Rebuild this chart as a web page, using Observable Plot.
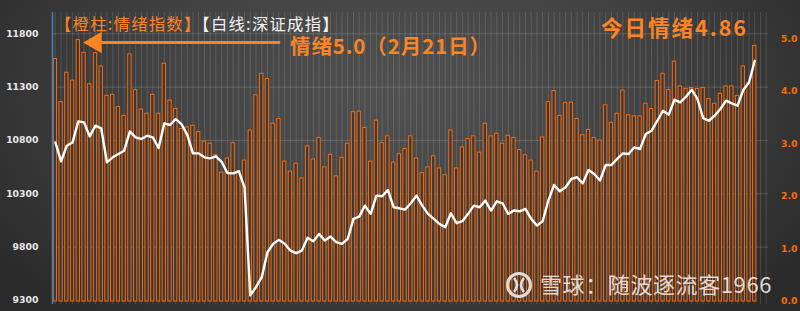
<!DOCTYPE html>
<html>
<head>
<meta charset="utf-8">
<script src="https://cdn.jsdelivr.net/npm/d3@7"></script>
<script src="https://cdn.jsdelivr.net/npm/@observablehq/plot@0.6"></script>
<style>
  html, body { margin: 0; padding: 0; }
  body { width: 800px; height: 311px; overflow: hidden;
    background: radial-gradient(ellipse 62% 95% at 50% 30%, #505050 0%, #424242 50%, #2a2a2a 100%); }
  #wrap { position: relative; width: 800px; height: 311px; font-family: "Noto Sans CJK SC", sans-serif; }
  #wrap svg.plot { position: absolute; left: 0; top: 0; }
  .ov { position: absolute; white-space: nowrap; line-height: 1; }
</style>
</head>
<body>
<div id="wrap"></div>
<script>
// 情绪指数 (right axis, 0–5), one bar per trading day
const sentiment = [
  4.61,3.79,4.35,4.20,4.97,4.73,4.13,4.72,4.47,3.91,
  3.93,3.70,3.53,4.70,4.02,3.65,3.57,3.93,3.57,4.52,
  3.82,3.66,3.28,3.31,3.34,3.22,3.04,3.00,2.78,2.45,
  2.72,3.01,2.48,2.68,3.25,3.92,4.33,4.23,3.38,3.47,
  2.66,2.47,2.62,2.34,2.95,2.70,3.11,2.55,2.79,2.38,
  2.73,3.00,3.60,3.61,3.30,2.66,3.44,3.01,3.14,2.64,
  2.80,2.90,3.14,2.72,2.44,2.55,2.76,2.53,2.40,3.25,
  2.53,2.93,3.09,3.14,2.83,3.38,3.14,3.19,3.00,3.15,
  3.11,2.88,2.78,2.68,2.47,3.12,3.79,4.00,3.53,3.77,
  3.78,3.47,3.16,3.26,3.11,3.06,3.73,3.40,3.57,4.01,
  3.54,3.52,3.52,3.76,3.66,4.19,4.33,4.02,4.56,4.09,
  4.04,4.06,4.04,4.06,3.85,3.76,3.95,4.09,4.09,3.91,
  4.47,4.15,4.86
];
// 深证成指 (left axis)
const szIndex = [
  10782,10604,10751,10782,10979,10970,10838,10939,10913,10595,
  10642,10673,10704,10885,10829,10814,10845,10829,10729,10960,
  10945,11001,10954,10854,10679,10679,10642,10632,10651,10600,
  10495,10492,10511,10361,9347,9425,9518,9752,9831,9868,
  9831,9768,9743,9768,9887,9855,9924,9862,9899,9846,
  9831,9878,10065,10086,10189,10112,10283,10277,10336,10174,
  10164,10152,10211,10283,10189,10112,10065,10018,9987,10117,
  10024,10043,10112,10189,10174,10236,10143,10230,10211,10112,
  10143,10136,10158,10065,10002,10043,10236,10383,10323,10361,
  10439,10455,10398,10524,10486,10424,10570,10570,10627,10679,
  10673,10736,10720,10861,10892,10985,11079,11042,11182,11157,
  11210,11276,11189,11010,10985,11032,11095,11173,11148,11126,
  11273,11344,11547
];
const leftTicks = [9300, 9800, 10300, 10800, 11300, 11800];
const rightTicks = [0, 1, 2, 3, 4, 5];
const peakIndex = 4;          // 2月21日, 情绪5.0
const titleOrange = "【橙柱:情绪指数】";
const titleWhite = "【白线:深证成指】";
const peakLabel = "情绪5.0（2月21日）";
const todayLabel = "今日情绪4.86";
const watermark = "雪球：随波逐流客1966";

const slots = 125; // two empty slots after the last day
const rightBase = 9290, rightUnit = 493.2; // map 0–5 onto the left scale
const conv = v => rightBase + v * rightUnit;

const data = sentiment.map((s, i) => ({i, s, sz: szIndex[i]}));
const ORANGE = "#ff6a00";
const TEXT_ORANGE = "#fb8424";
const arrowY = 11719;

const chart = Plot.plot({
  width: 800, height: 311,
  marginLeft: 52, marginRight: 32, marginTop: 12, marginBottom: 7,
  style: {background: "transparent", fontFamily: "DejaVu Sans, sans-serif", fontWeight: "bold", fontSize: "9.3px", overflow: "visible"},
  x: {type: "linear", domain: [-0.5, 124.4], axis: null},
  y: {domain: [9262, 12000], axis: null},
  marks: [
    Plot.ruleX(d3.range(slots), {stroke: "#ffffff", strokeOpacity: 0.13, strokeWidth: 1}),
    Plot.ruleY(leftTicks.slice(1), {stroke: "#ffffff", strokeOpacity: 0.16}),
    Plot.rectY(data, {x1: d => d.i - 0.5, x2: d => d.i + 0.5, y1: conv(0), y2: d => conv(d.s),
      insetLeft: 1.2, insetRight: 1.2, fill: "#313a47", stroke: ORANGE, strokeWidth: 1}),
    Plot.line(data, {x: "i", y: "sz", stroke: "#ffffff", strokeWidth: 2.4, strokeLinejoin: "round"}),
    Plot.ruleX([-0.5], {stroke: "#4f7fb0", strokeWidth: 1.5}),
    // arrow pointing at the 5.0 peak
    Plot.ruleY([arrowY], {x1: peakIndex + 3, x2: peakIndex + 35.3, stroke: TEXT_ORANGE, strokeWidth: 3}),
    Plot.dot([peakIndex], {x: d => d + 0.9, y: arrowY, symbol: "triangle", r: 8, rotate: -90, dx: 12,
      fill: TEXT_ORANGE, stroke: "none"}),
    Plot.axisY({anchor: "left", ticks: leftTicks, tickSize: 0, tickPadding: 14, tickFormat: d => String(d),
      fill: "#e8e8e8", fontSize: 9.3, fontWeight: "bold", label: null}),
    Plot.axisY({anchor: "right", ticks: rightTicks.map(conv), tickSize: 0, tickPadding: 12.5,
      tickFormat: d => ((d - rightBase) / rightUnit).toFixed(1),
      fill: ORANGE, fontSize: 9.3, fontWeight: "bold", label: null})
  ]
});
chart.classList.add("plot");
const wrap = document.getElementById("wrap");
wrap.appendChild(chart);

function ov(html, css) {
  const d = document.createElement("div");
  d.className = "ov";
  d.innerHTML = html;
  Object.assign(d.style, css);
  wrap.appendChild(d);
  return d;
}
ov(`<span style="color:${TEXT_ORANGE}">${titleOrange}</span><span style="color:#f2f2f2">${titleWhite}</span>`,
  {left: "55px", top: "15px", fontSize: "16.3px", letterSpacing: "1.3px"});
ov(peakLabel, {left: "290px", top: "35px", fontSize: "20.5px", fontWeight: "bold", color: TEXT_ORANGE, letterSpacing: "0.9px"});
ov(todayLabel, {left: "601px", top: "16px", fontSize: "21.5px", fontWeight: "bold", color: TEXT_ORANGE, letterSpacing: "2px"});
ov(watermark, {left: "540px", top: "272px", fontSize: "22px", color: "rgba(240,240,240,0.88)", letterSpacing: "0.6px"});
// watermark logo
ov(`<svg width="30" height="30" viewBox="0 0 30 30"><circle cx="15" cy="15" r="11.5" fill="none" stroke="rgba(240,240,240,0.88)" stroke-width="3"/>
<path d="M10 8 Q16 15 10 22 M20 8 Q14 15 20 22" fill="none" stroke="rgba(240,240,240,0.88)" stroke-width="2.6"/></svg>`,
  {left: "504px", top: "270px"});
</script>
</body>
</html>
